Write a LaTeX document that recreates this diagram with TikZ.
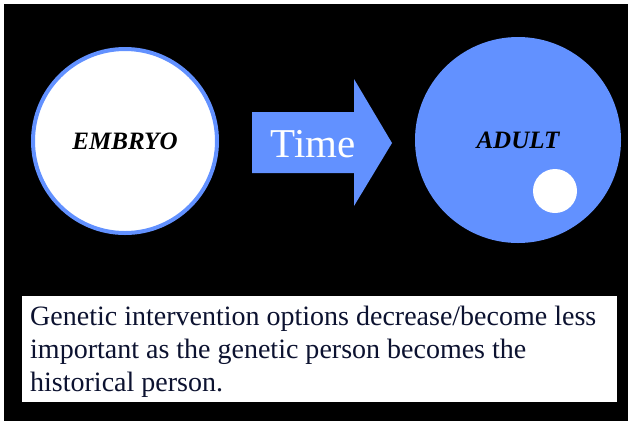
\documentclass[tikz,border=0pt]{standalone}
\usepackage{fontspec}
\setmainfont{Liberation Serif}
\definecolor{lifeblue}{RGB}{98,145,255}
\definecolor{notenavy}{RGB}{12,18,48}
\begin{document}
\begin{tikzpicture}
[x=1bp,y=-1bp,
 stage/.style={font=\fontsize{25bp}{30bp}\selectfont\bfseries\itshape}]
  \useasboundingbox (0,0) rectangle (629,421);
  \fill[white] (0,0) rectangle (629,421);
  \fill[black] (4,4) rectangle (628,421);

  % the two stages
  \draw[lifeblue, line width=4bp, fill=white] (125,141) circle (92);
  \fill[lifeblue] (518,140) circle (103);
  \fill[white] (555,191) circle (22);

  \node[stage] (embryo) at (125,141) {EMBRYO};
  \node[stage] (adult) at (518,140) {ADULT};

  % arrow between them
  \fill[lifeblue] (252,112) -- (354,112) -- (354,79) -- (392,143)
    -- (354,206) -- (354,173) -- (252,173) -- cycle;
  \node[anchor=base, text=white, font=\fontsize{41bp}{48bp}\selectfont] (time) at (313,157) {Time};

  \fill[white] (22,296) rectangle (617,402);
  \node[anchor=base west, align=left, inner sep=0pt, text=notenavy,
        font=\fontsize{28bp}{33bp}\selectfont] (note) at (30,391)
    {Genetic intervention options decrease/become less\\
     important as the genetic person becomes the\\
     historical person.};
\end{tikzpicture}
\end{document}
